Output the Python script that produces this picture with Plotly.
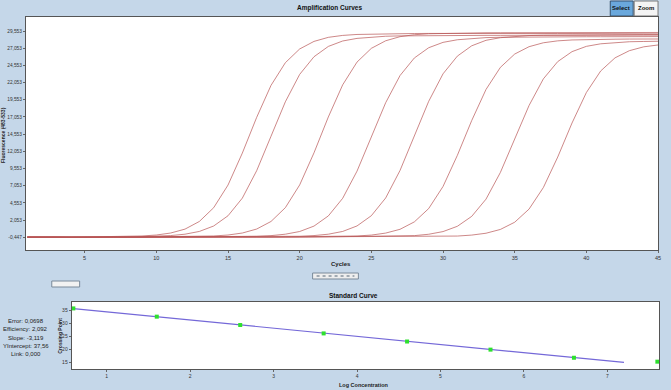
import plotly.graph_objects as go

W, H = 671, 390

cycles = list(range(1, 46))

curve_1 = [-0.42, -0.38, -0.41, -0.44, -0.40, -0.39, -0.37, -0.33, -0.26, -0.12, 0.17, 0.74, 1.85, 3.85, 7.15,
           11.80, 17.00, 21.65, 24.95, 26.95, 28.05, 28.64, 28.92, 29.06, 29.12, 29.15, 29.18, 29.20, 29.21, 29.22,
           29.22, 29.23, 29.23, 29.22, 29.22, 29.21, 29.21, 29.20, 29.20, 29.19, 29.18, 29.18, 29.17, 29.16, 29.15]
curve_2 = [-0.45, -0.43, -0.40, -0.44, -0.46, -0.42, -0.41, -0.43, -0.38, -0.35, -0.20, 0.00, 0.40, 1.19, 2.68,
           5.25, 9.24, 14.25, 19.26, 23.25, 25.82, 27.32, 28.11, 28.49, 28.69, 28.80, 28.85, 28.88, 28.90, 28.91,
           28.92, 28.92, 28.93, 28.93, 28.93, 28.94, 28.94, 28.94, 28.95, 28.95, 28.95, 28.96, 28.96, 28.96, 28.97]
curve_3 = [-0.40, -0.42, -0.44, -0.41, -0.39, -0.42, -0.45, -0.43, -0.40, -0.41, -0.38, -0.36, -0.33, -0.26, -0.12,
           0.17, 0.75, 1.85, 3.86, 7.17, 11.84, 17.06, 21.73, 25.04, 27.04, 28.14, 28.74, 29.02, 29.16, 29.22,
           29.26, 29.28, 29.30, 29.31, 29.32, 29.32, 29.33, 29.33, 29.33, 29.34, 29.34, 29.34, 29.35, 29.35, 29.35]
curve_4 = [-0.44, -0.41, -0.43, -0.46, -0.42, -0.40, -0.43, -0.41, -0.44, -0.42, -0.39, -0.41, -0.43, -0.40, -0.38,
           -0.35, -0.30, -0.21, 0.00, 0.39, 1.18, 2.66, 5.22, 9.17, 14.15, 19.13, 23.08, 25.64, 27.13, 27.91,
           28.29, 28.50, 28.60, 28.65, 28.68, 28.70, 28.71, 28.72, 28.72, 28.73, 28.73, 28.74, 28.74, 28.74, 28.75]
curve_5 = [-0.41, -0.43, -0.40, -0.42, -0.45, -0.43, -0.41, -0.40, -0.42, -0.44, -0.41, -0.39, -0.42, -0.40, -0.41,
           -0.39, -0.38, -0.36, -0.34, -0.30, -0.20, 0.00, 0.40, 1.20, 2.69, 5.27, 9.27, 14.30, 19.33, 23.33,
           25.91, 27.41, 28.21, 28.59, 28.79, 28.90, 28.94, 28.97, 29.00, 29.01, 29.02, 29.03, 29.03, 29.04, 29.04]
curve_6 = [-0.43, -0.45, -0.42, -0.40, -0.43, -0.44, -0.41, -0.42, -0.45, -0.43, -0.40, -0.42, -0.44, -0.41, -0.39,
           -0.42, -0.40, -0.41, -0.39, -0.38, -0.37, -0.36, -0.33, -0.26, -0.13, 0.16, 0.71, 1.79, 3.73, 6.94,
           11.47, 16.53, 21.06, 24.27, 26.21, 27.28, 27.85, 28.13, 28.26, 28.32, 28.35, 28.37, 28.39, 28.40, 28.40]
curve_7 = [-0.40, -0.42, -0.44, -0.43, -0.41, -0.39, -0.42, -0.44, -0.42, -0.40, -0.41, -0.43, -0.42, -0.40, -0.41,
           -0.43, -0.41, -0.39, -0.40, -0.42, -0.41, -0.39, -0.38, -0.37, -0.35, -0.33, -0.31, -0.21, -0.01, 0.38,
           1.15, 2.59, 5.10, 8.98, 13.85, 18.72, 22.60, 25.11, 26.56, 27.33, 27.70, 27.90, 28.00, 28.04, 28.07]
curve_8 = [-0.46, -0.44, -0.42, -0.45, -0.47, -0.44, -0.43, -0.45, -0.46, -0.44, -0.43, -0.45, -0.44, -0.42, -0.44,
           -0.45, -0.43, -0.42, -0.44, -0.43, -0.41, -0.42, -0.43, -0.41, -0.40, -0.41, -0.39, -0.38, -0.37, -0.34,
           -0.27, -0.13, 0.14, 0.69, 1.74, 3.65, 6.79, 11.22, 16.18, 20.61, 23.75, 25.66, 26.70, 27.26, 27.53]
curves = [curve_1, curve_2, curve_3, curve_4, curve_5, curve_6, curve_7, curve_8]

amp_xticks = [5, 10, 15, 20, 25, 30, 35, 40, 45]
amp_yticks = [-0.447, 2.053, 4.553, 7.053, 9.553, 12.053, 14.553, 17.053, 19.553, 22.053, 24.553, 27.053, 29.553]
amp_ytick_labels = ["-0,447", "2,053", "4,553", "7,053", "9,553", "12,053", "14,553", "17,053",
                    "19,553", "22,053", "24,553", "27,053", "29,553"]

log_conc = [0.6, 1.6, 2.6, 3.6, 4.6, 5.6, 6.6, 7.6]
crossing_point = [35.75, 32.6, 29.4, 26.2, 23.1, 20.0, 16.9, 15.4]
fit_slope = -3.119
fit_intercept = 37.56
fit_x = [0.6, 7.2]
std_xticks = [1, 2, 3, 4, 5, 6, 7]
std_yticks = [15, 20, 25, 30, 35]

stats_lines = ["Error: 0,0698", "Efficiency: 2,092", "Slope: -3,119", "YIntercept: 37,56", "Link: 0,000"]

BG = "#C5D7E9"
LINE_COLOR = "#B85555"
FONT = "Liberation Sans Narrow, Liberation Sans, Arial, sans-serif"
FONT_B = "Liberation Sans, Arial, sans-serif"

def px_x(p):
    return p / W

def px_y(p):
    return 1 - p / H

fig = go.Figure()

for c in curves:
    fig.add_trace(go.Scatter(x=cycles, y=c, mode="lines", xaxis="x", yaxis="y",
                             line=dict(color=LINE_COLOR, width=0.7), hoverinfo="skip", showlegend=False))

fit_y = [fit_intercept + fit_slope * v for v in fit_x]
fig.add_trace(go.Scatter(x=fit_x, y=fit_y, mode="lines", xaxis="x2", yaxis="y2",
                         line=dict(color="#7468D8", width=1.2), showlegend=False))
fig.add_trace(go.Scatter(x=log_conc, y=crossing_point, mode="markers", xaxis="x2", yaxis="y2",
                         marker=dict(color="#2EE02E", size=4, symbol="square"), cliponaxis=False,
                         showlegend=False))

def axis_common(fs):
    return dict(showgrid=False, zeroline=False, showline=True, mirror=True, linecolor="#555555",
                linewidth=1, ticks="outside", ticklen=2, tickcolor="#666666",
                tickfont=dict(family=FONT, size=fs, color="#333333"))

fig.update_layout(
    width=W, height=H,
    margin=dict(l=0, r=0, t=0, b=0),
    paper_bgcolor=BG, plot_bgcolor="white",
    xaxis=dict(domain=[px_x(26), px_x(661)], range=[0.9, 45], tickvals=amp_xticks,
               anchor="y", **axis_common(5.5)),
    yaxis=dict(domain=[px_y(250), px_y(17)], range=[-2.3, 31.6], tickvals=amp_yticks,
               ticktext=amp_ytick_labels, anchor="x", **axis_common(4.8)),
    xaxis2=dict(domain=[px_x(72), px_x(662)], range=[0.58, 7.62], tickvals=std_xticks,
                anchor="y2", **axis_common(5)),
    yaxis2=dict(domain=[px_y(369), px_y(302)], range=[12.6, 38.2], tickvals=std_yticks,
                anchor="x2", **axis_common(5)),
)

annots = []
def text(x, y, s, size=6, bold=False, angle=0, color="#222222", xanchor="center", family=None):
    annots.append(dict(x=px_x(x), y=px_y(y), xref="paper", yref="paper", showarrow=False,
                       text=("<b>%s</b>" % s) if bold else s, textangle=angle,
                       font=dict(family=family or (FONT_B if bold else FONT), size=size, color=color),
                       xanchor=xanchor, yanchor="middle"))

text(331, 8, "Amplification Curves", size=6.5, bold=True, color="#111111")
text(343, 264, "Cycles", size=6, bold=True)
text(3, 135, "Fluorescence (483-533)", size=5, bold=True, angle=-90)
text(355, 295, "Standard Curve", size=6.5, bold=True, color="#111111")
text(366, 385, "Log Concentration", size=5.5, bold=True)
text(60, 336, "Crossing Point", size=5, bold=True, angle=-90)
for i, s in enumerate(stats_lines):
    text(26, 321 + i * 8.3, s, size=6)

# buttons
text(624, 8, "Select", size=6, bold=True, color="#111111")
text(649, 8, "Zoom", size=6, bold=True, color="#111111")
fig.update_layout(annotations=annots)

shapes = [
    dict(type="rect", xref="paper", yref="paper", x0=px_x(613), x1=px_x(636), y0=px_y(16), y1=px_y(1),
         fillcolor="#6AA8DC", line=dict(color="#34506E", width=1), layer="below"),
    dict(type="rect", xref="paper", yref="paper", x0=px_x(637), x1=px_x(661), y0=px_y(16), y1=px_y(1),
         fillcolor="#F4F4F4", line=dict(color="#777777", width=1), layer="below"),
    dict(type="rect", xref="paper", yref="paper", x0=px_x(52), x1=px_x(80), y0=px_y(287), y1=px_y(281),
         fillcolor="#F2F2F2", line=dict(color="#7A8A9A", width=1)),
    dict(type="rect", xref="paper", yref="paper", x0=px_x(314), x1=px_x(360), y0=px_y(279), y1=px_y(273),
         fillcolor="#EEEEEE", line=dict(color="#7A8A9A", width=1)),
    dict(type="line", xref="paper", yref="paper", x0=px_x(318), x1=px_x(356), y0=px_y(276), y1=px_y(276),
         line=dict(color="#556677", width=1, dash="dot")),
]
fig.update_layout(shapes=shapes)

fig.write_html("out.html")
